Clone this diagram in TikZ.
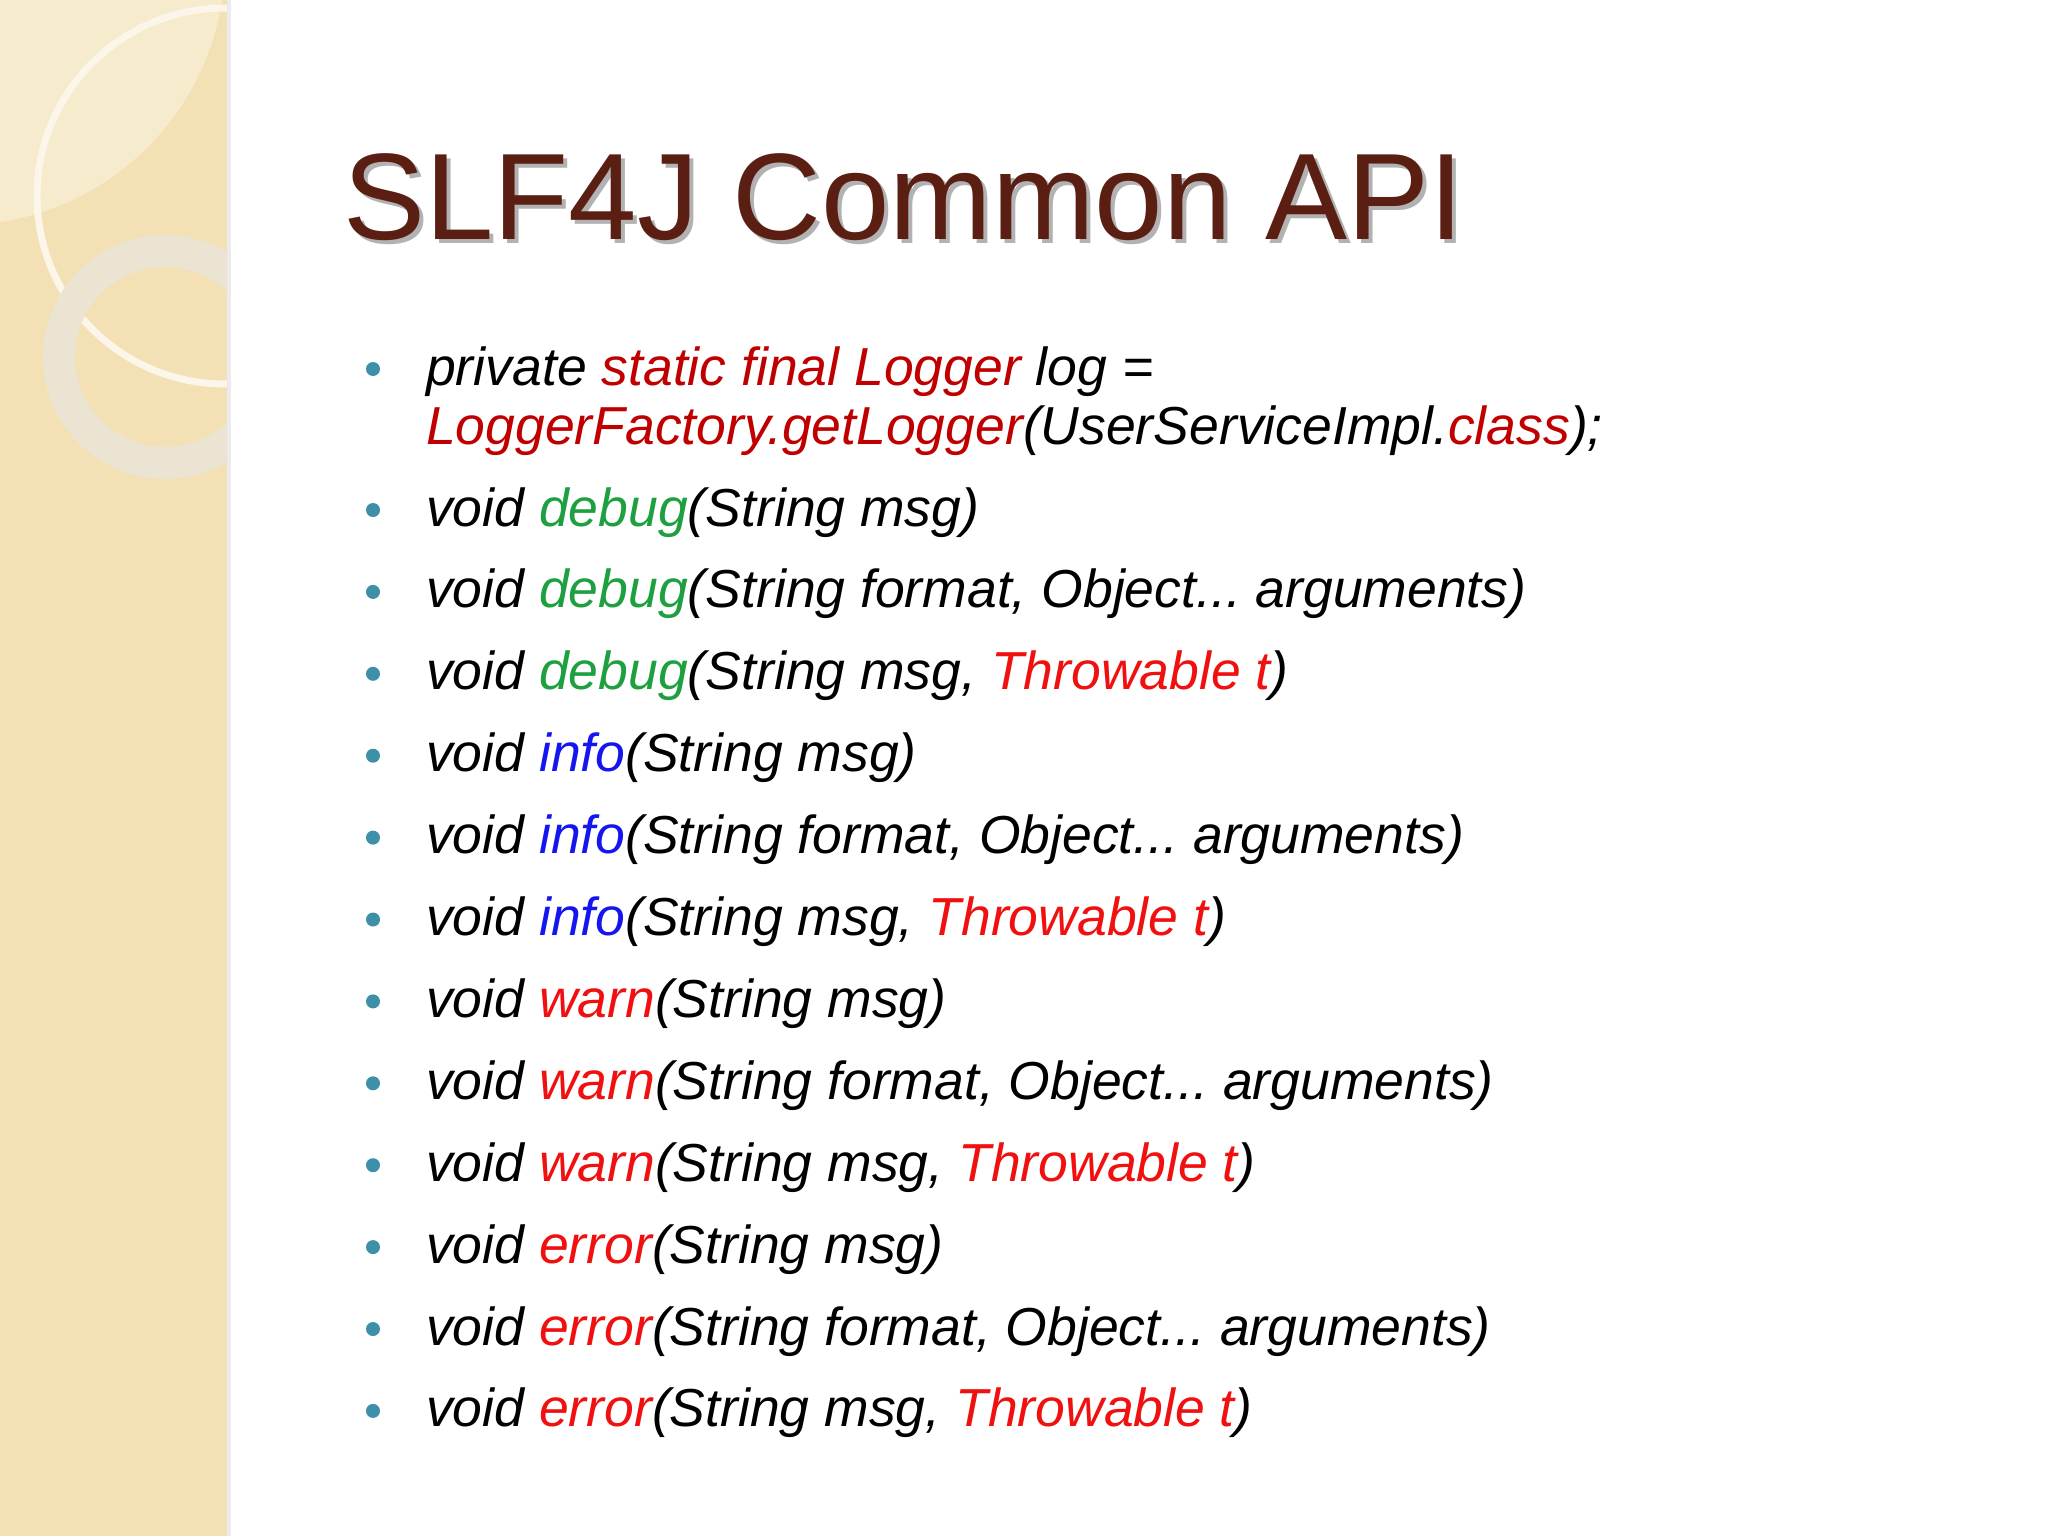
\documentclass[tikz,border=0pt]{standalone}
\usepackage{fontspec}
\setmainfont{Liberation Sans}
\begin{document}
\frenchspacing
\begin{tikzpicture}[x=1pt,y=-1pt,
  ln/.style={anchor=base west,inner sep=0pt,font=\fontsize{53.5}{62}\selectfont\itshape},
  bul/.style={circle,fill=bulc,inner sep=0pt,minimum size=14pt}]
\definecolor{bulc}{HTML}{3E8FA8}
\definecolor{beige}{HTML}{F3E1B5}
\definecolor{darkred}{HTML}{C00000}
\definecolor{grn}{HTML}{1FA040}
\definecolor{blu}{HTML}{1515F0}
\definecolor{rd}{HTML}{F01010}
\definecolor{ttl}{HTML}{5A1F12}
\useasboundingbox (0,0) rectangle (2048,1536);
\fill[white] (0,0) rectangle (2048,1536);
\begin{scope}
\clip (0,0) rectangle (227,1536);
\fill[beige] (0,0) rectangle (227,1536);
\fill[white,opacity=0.35] (-40,-40) circle (265);
\draw[white!70!beige,line width=7pt] (225,196) circle (188);
\draw[white!80!gray!60!beige,line width=32pt] (165,357) circle (106);
\end{scope}
\fill[black!8] (227,0) rectangle (231,1536);
\node[anchor=base west,inner sep=0pt,font=\fontsize{123}{140}\selectfont,text=black!30] at (347,243) {SLF4J Common API};
\node (title)[anchor=base west,inner sep=0pt,font=\fontsize{123}{140}\selectfont,text=ttl] at (343,239) {SLF4J Common API};
\node (b0)[bul] at (373,369) {};
\node (l0)[ln] at (426,385) {private \textcolor{darkred}{static final Logger} log =};
\node (l0b)[ln] at (426,444) {\textcolor{darkred}{LoggerFactory.getLogger}(UserServiceImpl.\textcolor{darkred}{class});};
\foreach \i/\m/\c/\a in {
 0/debug/grn/1, 1/debug/grn/2, 2/debug/grn/3,
 3/info/blu/1, 4/info/blu/2, 5/info/blu/3,
 6/warn/rd/1, 7/warn/rd/2, 8/warn/rd/3,
 9/error/rd/1, 10/error/rd/2, 11/error/rd/3}{
  \pgfmathsetmacro\yy{526+81.9*\i}
  \node (bb\i)[bul] at (373,\yy-16) {};
  \ifcase\a\or
   \node (t\i)[ln] at (426,\yy) {void \textcolor{\c}{\m}(String msg)};
  \or
   \node (t\i)[ln] at (426,\yy) {void \textcolor{\c}{\m}(String format, Object... arguments)};
  \or
   \node (t\i)[ln] at (426,\yy) {void \textcolor{\c}{\m}(String msg, \textcolor{rd}{Throwable t})};
  \fi
}
\end{tikzpicture}
\end{document}
